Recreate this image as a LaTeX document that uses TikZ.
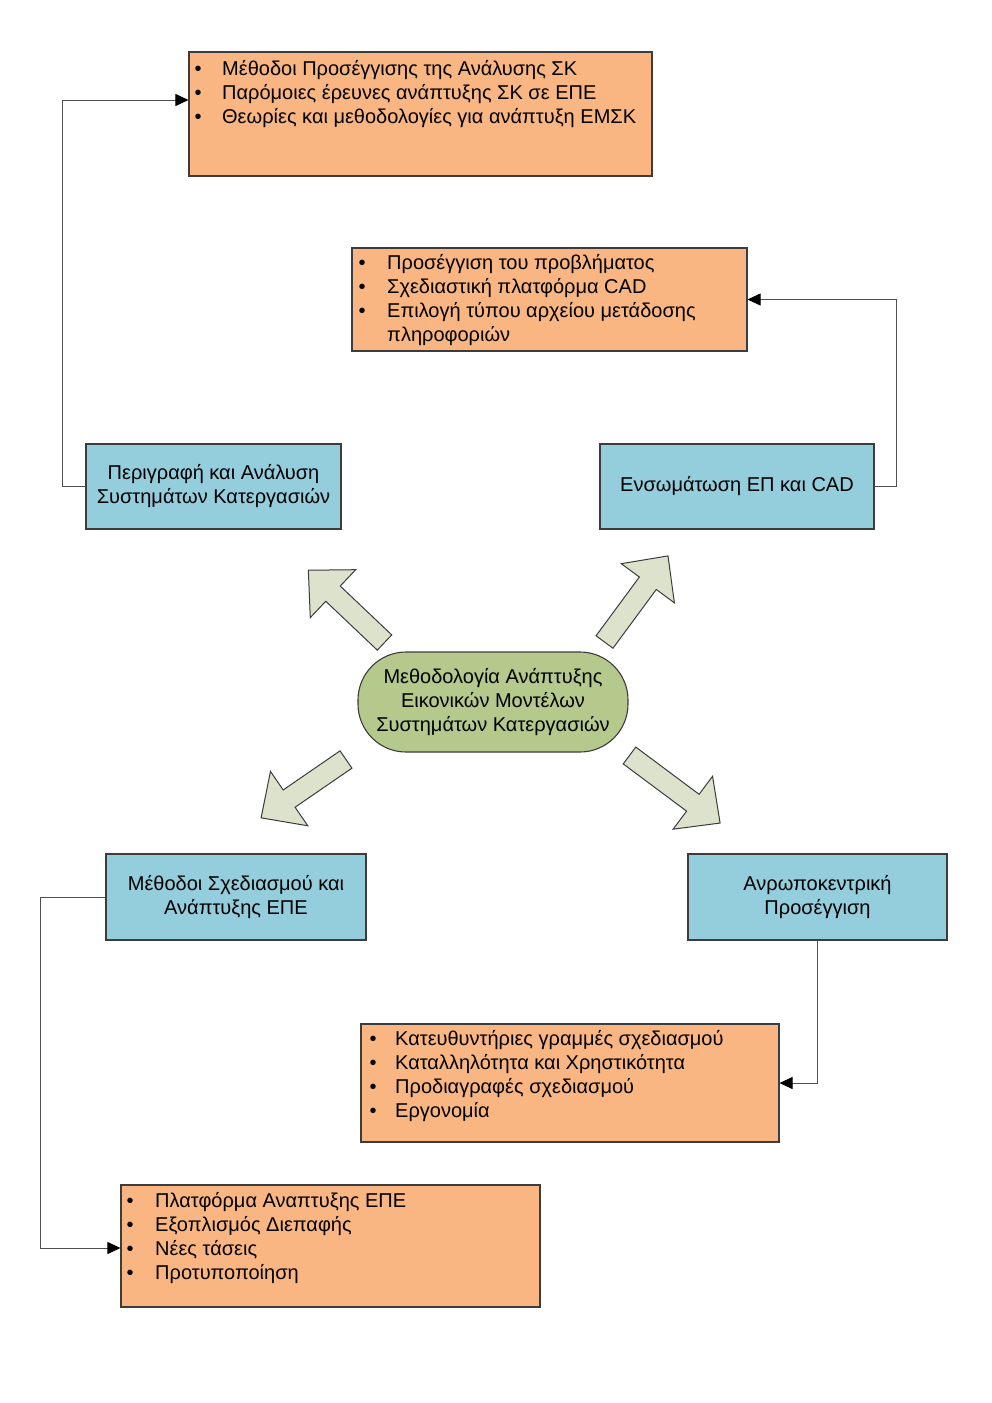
\documentclass[tikz,border=0pt]{standalone}
\usepackage{fontspec}
\setmainfont{Liberation Sans}
\usetikzlibrary{arrows.meta}
\definecolor{orangeF}{RGB}{249,182,130}
\definecolor{blueF}{RGB}{148,205,220}
\definecolor{greenF}{RGB}{181,201,140}
\definecolor{arrowF}{RGB}{221,226,205}
\definecolor{edge}{RGB}{60,60,60}
\definecolor{conncol}{RGB}{80,80,80}
\newcommand\itm[2]{\makebox[#1][l]{•}#2}
\tikzset{
  x=1pt, y=1pt,
  txt/.style={font=\fontsize{20}{24}\selectfont},
  orangebox/.style={draw=edge, fill=orangeF, line width=1.1pt, inner sep=0pt},
  bluebox/.style={draw=edge, fill=blueF, line width=1.1pt, inner sep=0pt, align=center, txt},
  listtext/.style={anchor=base west, inner sep=0pt, txt, align=left},
  conn/.style={draw=conncol, line width=0.9pt, -{Triangle[length=13pt,width=12pt,black]}},
  bigarrow/.style={draw=edge, fill=arrowF, line width=1pt, line join=miter}
}
\newcommand\blockarrow[4]{% tail x, tail y, angle, length
  \draw[bigarrow, shift={(#1,#2)}, rotate=#3]
    (0,-10.5) -- (#4-34,-10.5) -- (#4-34,-33) -- (#4,0) -- (#4-34,33) -- (#4-34,10.5) -- (0,10.5) -- cycle;}
\begin{document}
\begin{tikzpicture}
\useasboundingbox (0,0) rectangle (992,-1403);
\fill[white] (0,0) rectangle (992,-1403);

% orange boxes
\node[orangebox, minimum width=463pt, minimum height=124pt] (A) at (420.5,-114) {};
\node[listtext] (At) at (194.5,-75) {\begin{tabular}[t]{@{}l@{}}
\itm{27.5pt}{Μέθοδοι Προσέγγισης της Ανάλυσης ΣΚ}\\
\itm{27.5pt}{Παρόμοιες έρευνες ανάπτυξης ΣΚ σε ΕΠΕ}\\
\itm{27.5pt}{Θεωρίες και μεθοδολογίες για ανάπτυξη ΕΜΣΚ}
\end{tabular}};

\node[orangebox, minimum width=395pt, minimum height=103pt] (B) at (549.5,-299.5) {};
\node[listtext] (Bt) at (358.5,-269) {\begin{tabular}[t]{@{}l@{}}
\itm{28.5pt}{Προσέγγιση του προβλήματος}\\
\itm{28.5pt}{Σχεδιαστική πλατφόρμα CAD}\\
\itm{28.5pt}{Επιλογή τύπου αρχείου μετάδοσης}\\
\hspace*{28.5pt}πληροφοριών
\end{tabular}};

\node[orangebox, minimum width=418pt, minimum height=118pt] (G) at (570,-1083) {};
\node[listtext] (Gt) at (369.5,-1045) {\begin{tabular}[t]{@{}l@{}}
\itm{25.5pt}{Κατευθυντήριες γραμμές σχεδιασμού}\\
\itm{25.5pt}{Καταλληλότητα και Χρηστικότητα}\\
\itm{25.5pt}{Προδιαγραφές σχεδιασμού}\\
\itm{25.5pt}{Εργονομία}
\end{tabular}};

\node[orangebox, minimum width=419pt, minimum height=122pt] (H) at (330.5,-1246) {};
\node[listtext] (Ht) at (126.5,-1207) {\begin{tabular}[t]{@{}l@{}}
\itm{28.5pt}{Πλατφόρμα Αναπτυξης ΕΠΕ}\\
\itm{28.5pt}{Εξοπλισμός Διεπαφής}\\
\itm{28.5pt}{Νέες τάσεις}\\
\itm{28.5pt}{Προτυποποίηση}
\end{tabular}};

% blue boxes
\node[bluebox, minimum width=255pt, minimum height=85pt] (C) at (213.5,-486.5) {Περιγραφή και Ανάλυση\\Συστημάτων Κατεργασιών};
\node[bluebox, minimum width=274pt, minimum height=85pt] (D) at (737,-486.5) {Ενσωμάτωση ΕΠ και CAD};
\node[bluebox, minimum width=260pt, minimum height=86pt] (E) at (236,-897) {Μέθοδοι Σχεδιασμού και\\Ανάπτυξης ΕΠΕ};
\node[bluebox, minimum width=259pt, minimum height=86pt] (F) at (817.5,-897) {Ανρωποκεντρική\\Προσέγγιση};

% central node
\node[draw=edge, fill=greenF, line width=1.1pt, rounded corners=48pt, minimum width=270pt, minimum height=100pt, inner sep=0pt, align=center, txt] (M) at (493,-702) {Μεθοδολογία Ανάπτυξης\\Εικονικών Μοντέλων\\Συστημάτων Κατεργασιών};

% block arrows
\blockarrow{384.5}{-642.5}{136.5}{105}
\blockarrow{604.5}{-642}{53.6}{107}
\blockarrow{346}{-759.5}{214.5}{103}
\blockarrow{629.5}{-755.5}{-36.7}{113}

% connectors
\draw[conn] (C.west) -- ++(-23,0) |- ([yshift=14pt]A.west);
\draw[conn] (D.east) -- ++(22,0) |- (B.east);
\draw[conn] (E.west) -- ++(-65,0) |- ([yshift=-2pt]H.west);
\draw[conn] (F.south) |- (G.east);
\end{tikzpicture}
\end{document}
